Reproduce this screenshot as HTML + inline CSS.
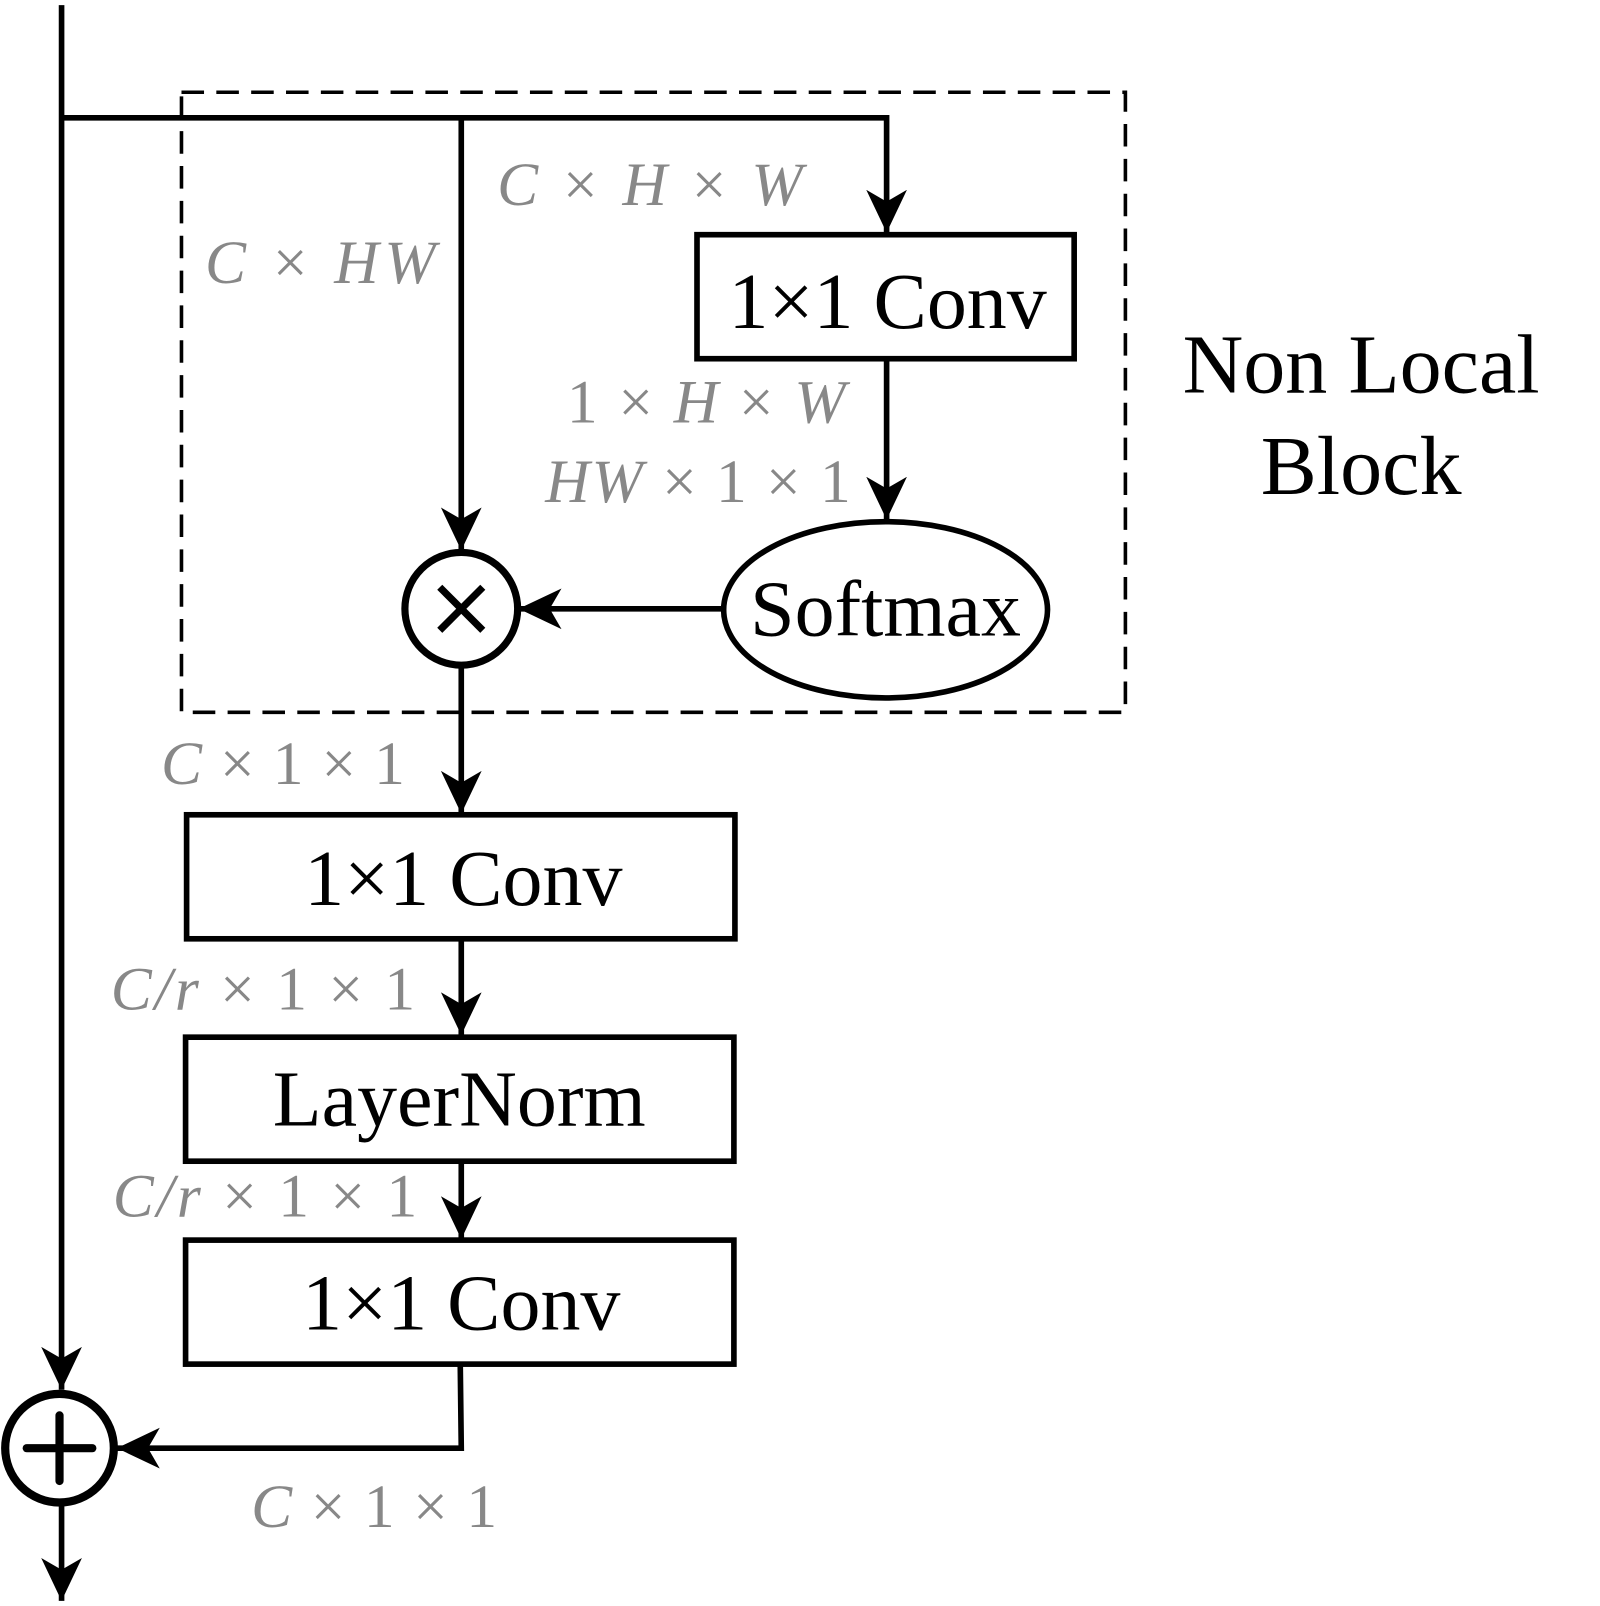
<!DOCTYPE html>
<html><head><style>html,body{margin:0;padding:0;background:#fff}svg{display:block}</style></head><body>
<svg width="1600" height="1606" viewBox="0 0 1561 1567" xmlns="http://www.w3.org/2000/svg" font-family="Liberation Serif, serif">
<defs>
<marker id="a" markerUnits="userSpaceOnUse" markerWidth="46" markerHeight="46" viewBox="-40 -20 44 40" refX="0" refY="0" orient="auto">
<path d="M0,0 L-40,-19 L-29,0 L-40,19 Z" fill="#000"/>
</marker>
</defs>
<g stroke="#000" stroke-width="5.5" fill="none">
<rect x="177" y="90" width="921" height="605" stroke-width="3.5" stroke-dasharray="22,12"/>
<line x1="60" y1="5" x2="60" y2="1356" marker-end="url(#a)"/>
<polyline points="60,115 865,115 865,227" marker-end="url(#a)"/>
<line x1="450" y1="115" x2="450" y2="537" marker-end="url(#a)"/>
<line x1="865" y1="350" x2="865" y2="507" marker-end="url(#a)"/>
<line x1="706" y1="594" x2="506" y2="594" marker-end="url(#a)"/>
<line x1="450" y1="649" x2="450" y2="794" marker-end="url(#a)"/>
<line x1="450" y1="916" x2="450" y2="1010" marker-end="url(#a)"/>
<line x1="450" y1="1133" x2="450" y2="1209" marker-end="url(#a)"/>
<polyline points="449,1331 450,1413 114,1413" marker-end="url(#a)"/>
<line x1="60" y1="1468" x2="60" y2="1562" marker-end="url(#a)"/>
<rect x="680" y="229" width="368" height="121"/>
<rect x="182" y="795" width="535" height="121"/>
<rect x="181" y="1012" width="535" height="121"/>
<rect x="181" y="1210" width="535" height="121"/>
<ellipse cx="864" cy="595" rx="158" ry="86"/>
<circle cx="450" cy="594" r="55" stroke-width="7"/>
<line x1="429" y1="573" x2="471" y2="615" stroke-width="7"/>
<line x1="471" y1="573" x2="429" y2="615" stroke-width="7"/>
<circle cx="58" cy="1413" r="53" stroke-width="8"/>
<line x1="26" y1="1413" x2="90" y2="1413" stroke-width="8" stroke-linecap="round"/>
<line x1="58" y1="1381" x2="58" y2="1445" stroke-width="8" stroke-linecap="round"/>
</g>
<g font-size="78" fill="#000" text-anchor="middle">
<text x="866" y="320">1×1 Conv</text>
<text x="864" y="620">Softmax</text>
<text x="452" y="883">1×1 Conv</text>
<text x="448" y="1098">LayerNorm</text>
<text x="450" y="1297">1×1 Conv</text>
<text x="1328" y="383" font-size="82">Non Local</text>
<text x="1328" y="482" font-size="82">Block</text>
</g>
<g font-size="60" fill="#888">
<text x="485" y="200" textLength="298" lengthAdjust="spacing"><tspan font-style="italic">C</tspan> × <tspan font-style="italic">H</tspan> × <tspan font-style="italic">W</tspan></text>
<text x="200" y="276" textLength="225" lengthAdjust="spacing"><tspan font-style="italic">C</tspan> × <tspan font-style="italic">HW</tspan></text>
<text x="553" y="412" textLength="272" lengthAdjust="spacing">1 × <tspan font-style="italic">H</tspan> × <tspan font-style="italic">W</tspan></text>
<text x="532" y="490" textLength="298" lengthAdjust="spacing"><tspan font-style="italic">HW</tspan> × 1 × 1</text>
<text x="157" y="765" textLength="238" lengthAdjust="spacing"><tspan font-style="italic">C</tspan> × 1 × 1</text>
<text x="108" y="985" textLength="297" lengthAdjust="spacing"><tspan font-style="italic">C/r</tspan> × 1 × 1</text>
<text x="110" y="1187" textLength="297" lengthAdjust="spacing"><tspan font-style="italic">C/r</tspan> × 1 × 1</text>
<text x="245" y="1490" textLength="240" lengthAdjust="spacing"><tspan font-style="italic">C</tspan> × 1 × 1</text>
</g>
</svg>
</body></html>
